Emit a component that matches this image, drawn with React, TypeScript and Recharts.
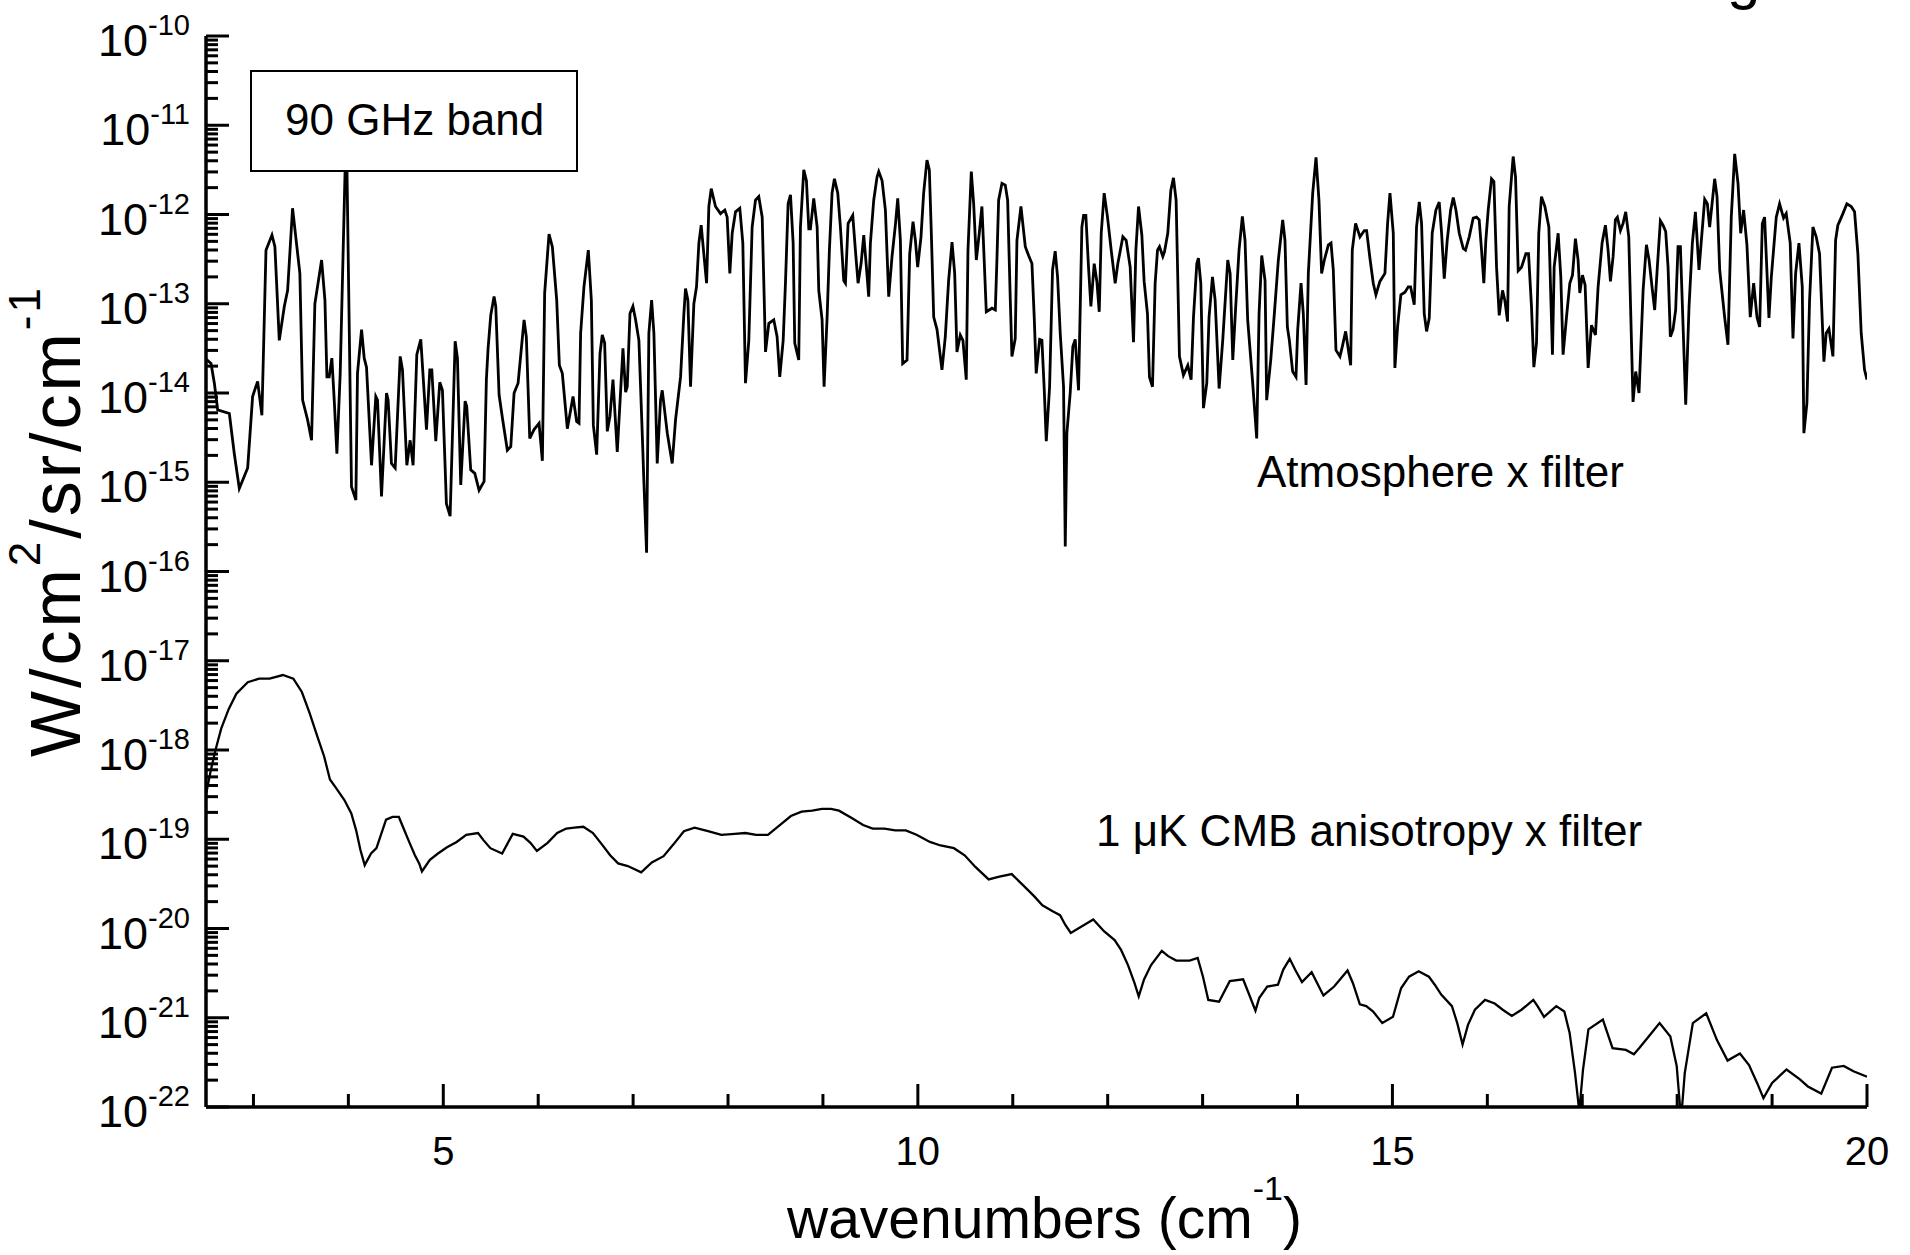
import React from "react";
import { LineChart, Line, XAxis, YAxis } from "recharts";

const FONT = "'Liberation Sans', Arial, Helvetica, sans-serif";

// [wavenumber (cm^-1), log10 of brightness in W/cm2/sr/cm-1]
const atmosphereA = [
  [2.5, -13.62], [2.553, -13.67], [2.588, -13.89], [2.623, -14.19], [2.746, -14.23], [2.798, -14.68],
  [2.851, -15.07], [2.939, -14.84], [2.991, -14.04], [3.044, -13.87], [3.089, -14.25], [3.132, -12.4],
  [3.195, -12.23], [3.226, -12.36], [3.272, -13.41], [3.325, -13.03], [3.36, -12.85], [3.412, -11.93],
  [3.489, -12.66], [3.518, -14.08], [3.57, -14.3], [3.612, -14.53], [3.647, -13.0], [3.718, -12.51],
  [3.753, -12.96], [3.774, -13.82], [3.798, -13.82], [3.826, -13.61], [3.851, -14.08], [3.879, -14.68],
  [3.914, -13.78], [3.978, -10.95], [4.033, -15.05], [4.079, -15.2], [4.096, -13.78], [4.139, -13.29],
  [4.167, -13.61], [4.191, -13.71], [4.244, -14.81], [4.289, -14.04], [4.307, -14.08], [4.349, -15.16],
  [4.402, -14.0], [4.419, -14.08], [4.454, -14.79], [4.493, -14.84], [4.546, -13.59], [4.57, -13.74],
  [4.616, -14.81], [4.651, -14.53], [4.682, -14.81], [4.721, -13.57], [4.763, -13.4], [4.823, -14.41],
  [4.858, -13.74], [4.879, -13.74], [4.921, -14.54], [4.963, -13.88], [4.991, -13.97], [5.033, -15.24],
  [5.072, -15.38], [5.125, -13.42], [5.149, -13.61], [5.184, -15.03], [5.23, -14.09], [5.247, -14.15],
  [5.289, -14.86], [5.332, -14.9], [5.377, -15.09], [5.43, -14.99], [5.454, -13.85], [5.472, -13.5],
  [5.5, -13.13], [5.535, -12.92], [5.553, -13.03], [5.588, -14.02], [5.623, -14.28], [5.675, -14.64],
  [5.711, -14.6], [5.746, -14.0], [5.788, -13.89], [5.851, -13.18], [5.875, -13.37], [5.911, -14.51],
  [5.956, -14.41], [6.009, -14.34], [6.044, -14.76], [6.068, -12.88], [6.114, -12.22], [6.149, -12.36],
  [6.195, -12.96], [6.223, -13.69], [6.254, -13.78], [6.307, -14.4], [6.367, -14.04], [6.405, -14.32],
  [6.43, -14.34], [6.447, -13.33], [6.482, -12.81], [6.528, -12.4], [6.56, -12.96], [6.581, -14.36],
  [6.616, -14.69], [6.651, -13.56], [6.675, -13.35], [6.7, -13.44], [6.728, -14.43], [6.756, -14.26],
  [6.788, -13.85], [6.833, -14.66],
];

const atmosphereB = [
  [6.893, -13.5], [6.921, -13.99], [6.938, -13.93], [6.967, -13.11], [6.998, -13.03], [7.026, -13.18],
  [7.061, -13.41], [7.096, -14.45], [7.114, -15.01], [7.142, -15.79], [7.166, -13.33], [7.195, -12.96],
  [7.219, -13.33], [7.254, -14.79], [7.289, -14.08], [7.307, -13.97], [7.36, -14.45], [7.395, -14.68],
  [7.412, -14.79], [7.447, -14.3], [7.5, -13.82], [7.535, -13.11], [7.552, -12.83], [7.577, -12.96],
  [7.605, -13.93], [7.64, -13.0], [7.668, -12.81], [7.693, -12.32], [7.717, -12.12], [7.745, -12.44],
  [7.774, -12.77], [7.798, -11.91], [7.823, -11.71], [7.868, -11.91], [7.921, -11.99], [7.966, -11.95],
  [7.991, -12.03], [8.019, -12.66], [8.044, -12.21], [8.079, -11.97], [8.124, -11.93], [8.156, -12.32],
  [8.184, -13.89], [8.219, -13.41], [8.254, -12.14], [8.289, -11.84], [8.324, -11.8], [8.36, -12.03],
  [8.395, -13.54], [8.43, -13.22], [8.482, -13.18], [8.517, -13.37], [8.545, -13.82], [8.581, -13.41],
  [8.605, -12.77], [8.633, -11.88], [8.658, -11.78], [8.686, -12.32], [8.703, -13.44], [8.745, -13.63],
  [8.763, -12.14], [8.798, -11.5], [8.826, -11.62], [8.851, -12.16], [8.868, -12.16], [8.903, -11.82],
  [8.939, -12.14], [8.956, -12.85], [8.991, -13.18], [9.012, -13.93], [9.044, -13.15], [9.068, -12.4],
  [9.096, -11.76], [9.121, -11.6], [9.156, -11.76], [9.184, -12.14], [9.219, -12.74], [9.237, -12.77],
  [9.265, -12.1], [9.314, -12.01], [9.342, -12.4], [9.37, -12.77], [9.402, -12.55], [9.43, -12.23],
  [9.458, -12.59], [9.482, -12.92], [9.5, -12.32], [9.535, -11.84], [9.57, -11.58], [9.588, -11.52],
  [9.623, -11.62], [9.658, -11.95], [9.693, -12.92], [9.728, -12.47], [9.763, -12.12], [9.788, -11.82],
  [9.816, -12.29], [9.84, -13.67], [9.886, -13.63], [9.914, -12.44], [9.949, -12.08], [9.974, -12.29],
  [9.998, -12.59], [10.033, -12.25], [10.061, -11.76], [10.096, -11.39], [10.121, -11.5], [10.142, -12.21],
  [10.167, -13.15], [10.202, -13.29], [10.254, -13.74], [10.289, -13.37], [10.324, -12.74], [10.36, -12.31],
  [10.388, -12.66], [10.412, -13.54], [10.447, -13.35], [10.475, -13.41], [10.51, -13.85], [10.528, -12.4],
  [10.563, -11.52], [10.588, -11.88], [10.616, -12.51], [10.647, -12.21], [10.675, -11.91], [10.693, -12.36],
  [10.721, -13.09], [10.781, -13.05], [10.816, -13.07], [10.833, -12.51], [10.851, -11.84], [10.886, -11.65],
  [10.921, -11.67], [10.946, -11.84], [10.974, -12.96], [10.991, -13.59], [11.026, -13.39], [11.044, -12.29],
  [11.086, -11.91],
];

const atmosphereC = [
  [11.132, -12.36], [11.167, -12.46], [11.202, -12.55], [11.226, -13.15], [11.247, -13.78], [11.283, -13.4],
  [11.307, -13.41], [11.332, -13.97], [11.353, -14.54], [11.388, -13.93], [11.419, -12.62], [11.447, -12.41],
  [11.472, -12.7], [11.5, -13.33], [11.535, -13.93], [11.553, -15.72], [11.57, -14.45], [11.605, -14.0],
  [11.633, -13.48], [11.658, -13.4], [11.693, -13.97], [11.728, -12.14], [11.746, -12.01], [11.77, -12.01],
  [11.798, -12.59], [11.823, -13.03], [11.858, -12.55], [11.886, -12.75], [11.911, -13.09], [11.932, -12.21],
  [11.963, -11.76], [11.998, -12.03], [12.037, -12.4], [12.079, -12.77], [12.107, -12.55], [12.16, -12.25],
  [12.195, -12.29], [12.237, -12.59], [12.272, -13.43], [12.297, -12.4], [12.325, -11.91], [12.36, -12.23],
  [12.384, -12.75], [12.419, -13.11], [12.44, -13.82], [12.472, -13.93], [12.5, -12.77], [12.525, -12.4],
  [12.546, -12.36], [12.581, -12.47], [12.598, -12.42], [12.633, -12.21], [12.665, -11.73], [12.693, -11.59],
  [12.721, -11.84], [12.756, -13.59], [12.798, -13.8], [12.844, -13.69], [12.879, -13.85], [12.904, -13.15],
  [12.939, -12.55], [12.956, -12.49], [12.981, -12.77], [13.009, -14.17], [13.044, -13.89], [13.068, -13.15],
  [13.104, -12.7], [13.132, -12.96], [13.174, -13.95], [13.212, -13.41], [13.265, -12.51], [13.29, -12.66],
  [13.318, -13.63], [13.349, -13.03], [13.384, -12.4], [13.419, -12.02], [13.447, -12.29], [13.475, -13.18],
  [13.525, -13.85], [13.57, -14.51], [13.595, -13.11], [13.623, -12.46], [13.658, -12.74], [13.675, -14.08],
  [13.718, -13.63], [13.756, -13.11], [13.798, -12.51], [13.844, -12.06], [13.868, -12.29], [13.893, -13.26],
  [13.914, -13.41], [13.949, -13.76], [13.984, -13.82], [14.002, -13.29], [14.037, -12.77], [14.061, -13.11],
  [14.09, -13.91], [14.114, -12.66], [14.16, -11.76], [14.195, -11.36], [14.226, -11.84], [14.254, -12.66],
  [14.283, -12.51], [14.325, -12.34], [14.353, -12.32], [14.377, -12.62], [14.405, -13.52], [14.447, -13.59],
  [14.472, -13.48], [14.507, -13.31], [14.542, -13.56], [14.56, -13.69], [14.577, -12.4], [14.612, -12.1],
  [14.658, -12.25], [14.704, -12.18], [14.728, -12.18], [14.763, -12.49], [14.798, -12.77], [14.826, -12.9],
  [14.868, -12.75], [14.897, -12.7], [14.921, -12.66], [14.949, -12.1], [14.974, -11.76], [15.009, -12.21],
  [15.026, -13.72], [15.054, -13.26], [15.089, -12.9], [15.132, -12.87], [15.167, -12.81], [15.191, -12.81],
  [15.23, -13.01], [15.254, -12.14], [15.283, -11.86], [15.307, -12.1], [15.335, -13.11], [15.36, -13.31],
  [15.388, -13.16], [15.419, -12.21], [15.458, -11.95], [15.493, -11.86],
];

const atmosphereD = [
  [15.518, -12.21], [15.546, -12.72], [15.577, -12.29], [15.613, -11.95], [15.641, -11.81], [15.669, -11.95],
  [15.704, -12.21], [15.746, -12.38], [15.77, -12.4], [15.809, -12.25], [15.851, -12.04], [15.886, -12.03],
  [15.914, -12.06], [15.939, -12.4], [15.963, -12.77], [15.984, -12.29], [16.009, -11.95], [16.044, -11.6],
  [16.069, -11.63], [16.097, -12.59], [16.125, -13.13], [16.16, -12.85], [16.184, -12.96], [16.213, -13.2],
  [16.23, -11.91], [16.272, -11.35], [16.297, -11.58], [16.314, -12.21], [16.325, -12.63], [16.36, -12.59],
  [16.406, -12.44], [16.434, -12.44], [16.465, -13.03], [16.49, -13.71], [16.518, -13.44], [16.542, -12.21],
  [16.57, -11.8], [16.606, -11.91], [16.648, -12.14], [16.686, -13.57], [16.704, -12.59], [16.746, -12.21],
  [16.774, -12.7], [16.798, -13.57], [16.834, -13.15], [16.869, -12.77], [16.897, -12.68], [16.928, -12.27],
  [16.956, -12.51], [16.974, -12.88], [17.002, -12.68], [17.03, -12.79], [17.062, -13.72], [17.097, -13.24],
  [17.139, -13.35], [17.167, -12.81], [17.209, -12.32], [17.244, -12.12], [17.272, -12.4], [17.297, -12.75],
  [17.325, -12.47], [17.349, -12.06], [17.37, -12.03], [17.402, -12.18], [17.43, -12.1], [17.458, -11.97],
  [17.49, -12.25], [17.535, -14.1], [17.563, -13.76], [17.598, -14.0], [17.641, -12.85], [17.676, -12.34],
  [17.704, -12.51], [17.735, -12.81], [17.763, -13.07], [17.791, -12.59], [17.823, -12.07], [17.851, -12.12],
  [17.879, -12.19], [17.904, -12.59], [17.928, -13.37], [17.956, -13.29], [17.984, -13.07], [18.009, -12.36],
  [18.034, -12.36], [18.09, -14.13], [18.125, -13.03], [18.16, -12.32], [18.192, -11.97], [18.23, -12.62],
  [18.255, -12.29], [18.29, -11.83], [18.318, -11.88], [18.342, -12.14], [18.395, -11.6], [18.42, -11.8],
  [18.448, -12.62], [18.5, -13.15], [18.535, -13.46], [18.57, -12.03], [18.606, -11.32], [18.641, -11.65],
  [18.669, -12.21], [18.7, -11.95], [18.735, -12.34], [18.77, -13.15], [18.806, -12.77], [18.841, -13.15],
  [18.869, -13.26], [18.897, -12.1], [18.921, -12.03], [18.967, -13.16], [18.992, -12.7], [19.044, -12.03],
  [19.079, -11.88], [19.121, -12.04], [19.149, -11.99], [19.191, -12.32], [19.22, -13.39], [19.248, -12.66],
  [19.283, -12.32], [19.318, -12.81], [19.335, -14.45], [19.367, -14.11], [19.395, -12.96], [19.43, -12.14],
  [19.465, -12.25], [19.5, -12.44], [19.546, -13.65], [19.57, -13.33], [19.599, -13.28], [19.641, -13.59],
  [19.669, -12.29], [19.693, -12.12], [19.718, -12.06], [19.746, -11.99], [19.788, -11.88], [19.834, -11.91],
  [19.869, -11.97], [19.904, -12.44], [19.939, -13.33], [19.974, -13.74], [20.0, -13.85],
];

const cmbLow = [
  [2.5, -18.5], [2.55, -18.23], [2.6, -18.0], [2.66, -17.76], [2.74, -17.54], [2.82, -17.37], [2.94, -17.24],
  [3.06, -17.2], [3.17, -17.2], [3.31, -17.16], [3.42, -17.2], [3.51, -17.35], [3.59, -17.58], [3.68, -17.87],
  [3.744, -18.07], [3.806, -18.33], [3.873, -18.43], [3.958, -18.56], [4.031, -18.71], [4.082, -18.9],
  [4.127, -19.12], [4.172, -19.29], [4.239, -19.16], [4.296, -19.1], [4.397, -18.78], [4.465, -18.75],
  [4.532, -18.75], [4.594, -18.91], [4.645, -19.04], [4.701, -19.18], [4.746, -19.27], [4.775, -19.36],
  [4.859, -19.23], [4.944, -19.16], [5.039, -19.09], [5.141, -19.03], [5.242, -18.95], [5.366, -18.93],
  [5.423, -19.01], [5.496, -19.1], [5.62, -19.16], [5.732, -18.94], [5.845, -18.97], [5.918, -19.04],
  [5.986, -19.13], [6.099, -19.04], [6.2, -18.93], [6.296, -18.88], [6.38, -18.87], [6.476, -18.86],
  [6.577, -18.93], [6.673, -19.06], [6.758, -19.18], [6.842, -19.27], [6.944, -19.3], [7.085, -19.37],
  [7.197, -19.26], [7.321, -19.19], [7.423, -19.06], [7.535, -18.91], [7.648, -18.87], [7.789, -18.91],
  [7.93, -18.95], [8.07, -18.94], [8.183, -18.93], [8.296, -18.95], [8.42, -18.95], [8.549, -18.84],
  [8.662, -18.74], [8.775, -18.69], [8.887, -18.68], [8.989, -18.66], [9.085, -18.66], [9.169, -18.68],
  [9.299, -18.76], [9.423, -18.84], [9.524, -18.88], [9.648, -18.88], [9.761, -18.9], [9.873, -18.9],
  [9.986, -18.95], [10.127, -19.03], [10.239, -19.07], [10.38, -19.1], [10.493, -19.18], [10.606, -19.31],
  [10.746, -19.45], [10.859, -19.42], [10.989, -19.39], [11.113, -19.52],
];

const cmbHigh = [
  [11.227, -19.64], [11.312, -19.74], [11.425, -19.81], [11.498, -19.85], [11.554, -19.96], [11.611, -20.05],
  [11.707, -19.99], [11.848, -19.9], [11.961, -20.03], [12.073, -20.13], [12.141, -20.24], [12.214, -20.41],
  [12.282, -20.61], [12.327, -20.76], [12.383, -20.57], [12.457, -20.41], [12.57, -20.25], [12.637, -20.31],
  [12.722, -20.36], [12.863, -20.36], [12.948, -20.33], [13.004, -20.54], [13.06, -20.8], [13.173, -20.82],
  [13.286, -20.59], [13.427, -20.57], [13.483, -20.72], [13.557, -20.92], [13.596, -20.78], [13.681, -20.65],
  [13.794, -20.63], [13.85, -20.46], [13.918, -20.34], [13.974, -20.46], [14.047, -20.6], [14.149, -20.49],
  [14.273, -20.75], [14.386, -20.65], [14.527, -20.47], [14.583, -20.61], [14.657, -20.85], [14.724, -20.87],
  [14.797, -20.93], [14.893, -21.06], [15.006, -20.99], [15.091, -20.67], [15.175, -20.54], [15.277, -20.48],
  [15.384, -20.54], [15.446, -20.63], [15.514, -20.74], [15.627, -20.87], [15.683, -21.06], [15.739, -21.3],
  [15.796, -21.08], [15.869, -20.91], [15.976, -20.8], [16.078, -20.84], [16.162, -20.91], [16.258, -20.98],
  [16.36, -20.91], [16.484, -20.8], [16.529, -20.87], [16.597, -20.99], [16.726, -20.87], [16.811, -20.93],
  [16.867, -21.17], [16.924, -21.62], [16.969, -22.05], [17.008, -21.58], [17.065, -21.13], [17.217, -21.02],
  [17.319, -21.34], [17.46, -21.36], [17.544, -21.41], [17.601, -21.34], [17.685, -21.23], [17.815, -21.06],
  [17.928, -21.21], [17.995, -21.54], [18.041, -22.14], [18.08, -21.62], [18.165, -21.06], [18.306, -20.95],
  [18.419, -21.25], [18.531, -21.48], [18.661, -21.4], [18.757, -21.53], [18.842, -21.73], [18.909, -21.9],
  [19.0, -21.73], [19.152, -21.58], [19.293, -21.69], [19.377, -21.77], [19.518, -21.85], [19.631, -21.56],
  [19.755, -21.54], [19.857, -21.6], [20.0, -21.66],
];

const xTicks = [3, 4, 5, 6, 7, 8, 9, 10, 11, 12, 13, 14, 15, 16, 17, 18, 19, 20];
const xLabelled = [5, 10, 15, 20];
const yDecades = [-22, -21, -20, -19, -18, -17, -16, -15, -14, -13, -12, -11, -10];
const minorSteps = [2, 3, 4, 5, 6, 7, 8, 9];

const toPoints = (rows: number[][]) => rows.map(([x, y]) => ({ x, y }));
const atmosphere = toPoints([...atmosphereA, ...atmosphereB, ...atmosphereC, ...atmosphereD]);
const cmb = toPoints([...cmbLow, ...cmbHigh]);

const yTicks = [
  ...yDecades,
  ...yDecades.slice(0, -1).flatMap((d) => minorSteps.map((k) => d + Math.log10(k))),
].sort((a, b) => a - b);

const isDecade = (v: number) => Math.abs(v - Math.round(v)) < 1e-6;

const LeftTick = (props: any) => {
  const { x, y, payload } = props;
  const major = isDecade(payload.value);
  return (
    <g>
      <line x1={x} x2={x + (major ? 23 : 12)} y1={y} y2={y} stroke="#000" strokeWidth={3} />
      {major && (
        <text x={x - 16} y={y + 20} textAnchor="end" fontFamily={FONT} fill="#000">
          <tspan fontSize={45}>10</tspan>
          <tspan fontSize={29} dy={-21}>{Math.round(payload.value)}</tspan>
        </text>
      )}
    </g>
  );
};

const RightTick = (props: any) => {
  const { x, y, payload } = props;
  const major = isDecade(payload.value);
  return <line x1={x} x2={x - (major ? 23 : 12)} y1={y} y2={y} stroke="#000" strokeWidth={3} />;
};

const BottomTick = (props: any) => {
  const { x, y, payload } = props;
  const major = xLabelled.includes(payload.value);
  return (
    <g>
      <line x1={x} x2={x} y1={y} y2={y - (major ? 23 : 13)} stroke="#000" strokeWidth={3} />
      {major && (
        <text x={x} y={y + 58} textAnchor="middle" fontFamily={FONT} fontSize={40} fill="#000">
          {payload.value}
        </text>
      )}
    </g>
  );
};

const TopTick = (props: any) => {
  const { x, y, payload } = props;
  const major = xLabelled.includes(payload.value);
  return <line x1={x} x2={x} y1={y} y2={y + (major ? 24 : 14)} stroke="#000" strokeWidth={3} />;
};

// drawn over the plot so the label box hides the line behind it
const Overlay = () => (
  <svg
    width={1910}
    height={1255}
    style={{ position: "absolute", left: 0, top: 0, pointerEvents: "none" }}
  >
    <g fontFamily={FONT} fill="#000">
      <text x={1727} y={-2} fontSize={60}>g</text>
      <rect x={251} y={71} width={326} height={100} fill="#fff" stroke="#000" strokeWidth={2} />
      <text x={285} y={135} fontSize={44}>90 GHz band</text>
      <text x={1257} y={487} fontSize={44}>Atmosphere x filter</text>
      <text x={1096} y={846} fontSize={44}>1 μK CMB anisotropy x filter</text>
      <text x={787} y={1238} fontSize={57}>
        wavenumbers (cm<tspan fontSize={34} dy={-38}>-1</tspan>
        <tspan dy={38}>)</tspan>
      </text>
      <text x={80} y={757} fontSize={70} letterSpacing={3} transform="rotate(-90 80 757)">
        W/cm<tspan fontSize={44} dy={-40}>2</tspan>
        <tspan dy={40}>/sr/cm</tspan>
        <tspan fontSize={44} dy={-40}>-1</tspan>
      </text>
    </g>
  </svg>
);

const axisLine = { stroke: "#000", strokeWidth: 3.5 };

export default function App() {
  return (
    <div style={{ position: "absolute", left: 0, top: 0, width: 1910, height: 1255, background: "#fff" }}>
      <LineChart width={1910} height={1255} margin={{ top: 36, right: 43, bottom: 0, left: 0 }}>
        <XAxis
          xAxisId="bottom"
          type="number"
          dataKey="x"
          domain={[2.5, 20]}
          ticks={xTicks}
          interval={0}
          allowDataOverflow
          height={148}
          axisLine={axisLine}
          tickLine={false}
          tickSize={0}
          tickMargin={0}
          tick={BottomTick}
        />
        <XAxis
          xAxisId="top"
          orientation="top"
          type="number"
          dataKey="x"
          domain={[2.5, 20]}
          ticks={xTicks}
          interval={0}
          allowDataOverflow
          height={0}
          axisLine={axisLine}
          tickLine={false}
          tickSize={0}
          tickMargin={0}
          tick={TopTick}
        />
        <YAxis
          yAxisId="left"
          type="number"
          domain={[-22, -10]}
          ticks={yTicks}
          interval={0}
          allowDataOverflow
          width={206}
          axisLine={axisLine}
          tickLine={false}
          tickSize={0}
          tickMargin={0}
          tick={LeftTick}
        />
        <YAxis
          yAxisId="right"
          orientation="right"
          type="number"
          domain={[-22, -10]}
          ticks={yTicks}
          interval={0}
          allowDataOverflow
          width={0}
          axisLine={axisLine}
          tickLine={false}
          tickSize={0}
          tickMargin={0}
          tick={RightTick}
        />
        <Line
          xAxisId="bottom"
          yAxisId="left"
          data={atmosphere}
          dataKey="y"
          type="linear"
          stroke="#000"
          strokeWidth={2.8}
          dot={false}
          isAnimationActive={false}
        />
        <Line
          xAxisId="bottom"
          yAxisId="left"
          data={cmb}
          dataKey="y"
          type="linear"
          stroke="#000"
          strokeWidth={2.3}
          dot={false}
          isAnimationActive={false}
        />
      </LineChart>
      <Overlay />
    </div>
  );
}
